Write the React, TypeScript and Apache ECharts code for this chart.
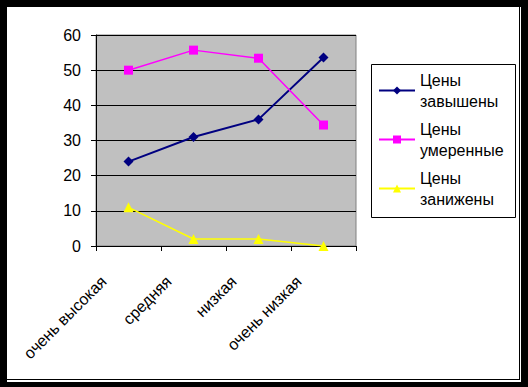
import React, { useEffect, useRef } from "react";
import * as echarts from "echarts";

const categories = ["очень высокая", "средняя", "низкая", "очень низкая"];
const seriesNames = ["Цены\nзавышены", "Цены\nумеренные", "Цены\nзанижены"];
const highPrices = [24, 31, 36, 53.6];
const moderatePrices = [50, 55.7, 53.4, 34.4];
const lowPrices = [11, 2, 2, 0];
const yTicks = { min: 0, max: 60, interval: 10 };

const FONT = "'Liberation Sans', Arial, sans-serif";

export default function App() {
  const ref = useRef<HTMLDivElement>(null);
  useEffect(() => {
    if (!ref.current) return;
    const chart = echarts.init(ref.current, null, { renderer: "svg" });
    chart.setOption({
      animation: false,
      textStyle: { fontFamily: FONT },
      grid: {
        left: 96,
        top: 35,
        width: 260,
        height: 211,
        show: true,
        backgroundColor: "#C0C0C0",
        borderColor: "#808080",
        borderWidth: 1,
      },
      legend: {
        orient: "vertical",
        left: 378,
        top: 59,
        padding: 0,
        itemWidth: 36,
        itemHeight: 10,
        itemGap: -14,
        textStyle: {
          fontFamily: FONT,
          fontSize: 16,
          lineHeight: 21,
          color: "#000",
          padding: [21, 0, 0, 0],
        },
        data: seriesNames,
      },
      xAxis: {
        type: "category",
        data: categories,
        boundaryGap: true,
        axisLine: { lineStyle: { color: "#000", width: 1 } },
        axisTick: { show: true, length: 5, inside: false, lineStyle: { color: "#000" } },
        axisLabel: {
          rotate: 45,
          fontSize: 16,
          color: "#000",
          fontFamily: FONT,
          margin: 8,
          padding: [0, 35, 0, 0],
          interval: 0,
        },
        splitLine: { show: false },
      },
      yAxis: {
        type: "value",
        min: yTicks.min,
        max: yTicks.max,
        interval: yTicks.interval,
        axisLine: { show: true, lineStyle: { color: "#000", width: 1 } },
        axisTick: { show: true, length: 5, lineStyle: { color: "#000" } },
        axisLabel: { fontSize: 16, color: "#000", fontFamily: FONT, margin: 15 },
        splitLine: { show: true, lineStyle: { color: "#000", width: 1 } },
      },
      series: [
        {
          name: seriesNames[0],
          type: "line",
          data: highPrices,
          symbol: "diamond",
          symbolSize: 10,
          color: "#000080",
          lineStyle: { color: "#000080", width: 2 },
          itemStyle: { color: "#000080" },
        },
        {
          name: seriesNames[1],
          type: "line",
          data: moderatePrices,
          symbol: "rect",
          symbolSize: 9,
          color: "#FF00FF",
          lineStyle: { color: "#FF00FF", width: 1.5 },
          itemStyle: { color: "#FF00FF" },
        },
        {
          name: seriesNames[2],
          type: "line",
          data: lowPrices,
          symbol: "triangle",
          symbolSize: 10,
          color: "#FFFF00",
          lineStyle: { color: "#FFFF00", width: 1.5 },
          itemStyle: { color: "#FFFF00" },
        },
      ],
      graphic: [
        {
          type: "rect",
          shape: { x: 371.5, y: 64.5, width: 144, height: 153 },
          style: { fill: "none", stroke: "#000", lineWidth: 1 },
          z: 100,
        },
      ],
    });
    return () => chart.dispose();
  }, []);

  return (
    <div style={{ position: "absolute", left: 0, top: 0, width: 528, height: 387, background: "#000" }}>
      <div style={{ position: "absolute", left: 7, top: 7, width: 514, height: 375, background: "#fff" }}>
        <div
          style={{
            position: "absolute",
            left: 0,
            top: 0,
            width: 513,
            height: 373,
            boxSizing: "border-box",
            borderRight: "1px solid #000",
            borderBottom: "1px solid #000",
          }}
        />
      </div>
      <div ref={ref} style={{ position: "absolute", left: 0, top: 0, width: 528, height: 387 }} />
    </div>
  );
}
